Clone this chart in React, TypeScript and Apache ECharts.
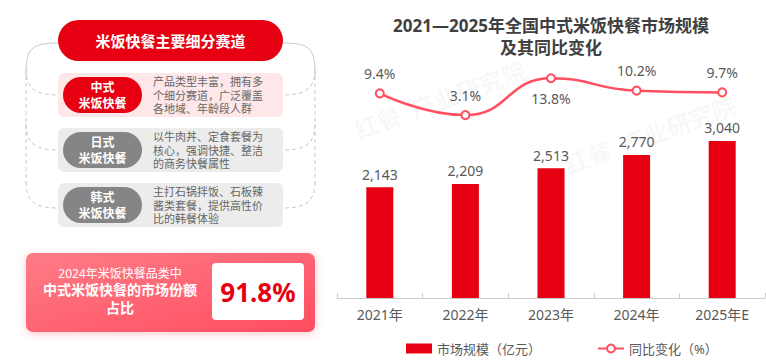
import React, { useEffect, useRef } from "react";
import * as echarts from "echarts";

const years = ["2021年", "2022年", "2023年", "2024年", "2025年E"];
const marketSize = [2143, 2209, 2513, 2770, 3040];
const yoyGrowth = [9.4, 3.1, 13.8, 10.2, 9.7];
const yoyLabelBelow = [false, false, true, false, false];

const chartTitle = "2021—2025年全国中式米饭快餐市场规模\n及其同比变化";
const legendNames = ["市场规模（亿元）", "同比变化（%）"];
const panelTitle = "米饭快餐主要细分赛道";
const segmentNames = ["中式\n米饭快餐", "日式\n米饭快餐", "韩式\n米饭快餐"];
const segmentDescs = [
  ["产品类型丰富，拥有多", "个细分赛道，广泛覆盖", "各地域、年龄段人群"],
  ["以牛肉丼、定食套餐为", "核心，强调快捷、整洁", "的商务快餐属性"],
  ["主打石锅拌饭、石板辣", "酱类套餐，提供高性价", "比的韩餐体验"],
];
const shareLines = ["2024年米饭快餐品类中", "中式米饭快餐的市场份额", "占比"];
const shareValue = "91.8%";
const watermark = "红餐  产业研究院";

const FONT = '"Noto Sans", "Noto Sans CJK SC", sans-serif';
const RED = "#e60012";
const LINE = "#ff4f60";

export default function App() {
  const ref = useRef<HTMLDivElement>(null);
  useEffect(() => {
    if (!ref.current) return;
    const chart = echarts.init(ref.current, null, { renderer: "svg" });

    const graphics: any[] = [];
    // faint watermarks
    const wmPos = [
      [440, 100], [650, 135],
    ];
    wmPos.forEach(([x, y]) => {
      graphics.push({
        type: "text", x, y, rotation: 0.35, z: 0, silent: true,
        style: { text: watermark, font: `bold 24px ${FONT}`, fill: "rgba(0,0,0,0.04)", textAlign: "center", textVerticalAlign: "middle" },
      });
    });

    // outline curves
    const gray = "#c9c9c9";
    const sides = [
      { xo: 26, xi: 58 },
      { xo: 315, xi: 283 },
    ];
    sides.forEach(({ xo, xi }) => {
      graphics.push({
        type: "bezierCurve", z: 1,
        shape: { x1: xi, y1: 43, x2: xo, y2: 76, cpx1: xo + (xi - xo) * 0.1, cpy1: 43, cpx2: xo, cpy2: 50 },
        style: { stroke: gray, lineWidth: 1, fill: null },
      });
      graphics.push({
        type: "line", z: 1,
        shape: { x1: xo, y1: 76, x2: xo, y2: 183 },
        style: { stroke: gray, lineWidth: 1, lineDash: [4, 3] },
      });
      [95, 150, 208].forEach((yy) => {
        graphics.push({
          type: "bezierCurve", z: 1,
          shape: { x1: xo, y1: yy - 26, x2: xi, y2: yy, cpx1: xo, cpy1: yy - 6, cpx2: xo + (xi - xo) * 0.3, cpy2: yy },
          style: { stroke: gray, lineWidth: 1, lineDash: [4, 3], fill: null },
        });
      });
    });

    // header pill
    graphics.push({ type: "rect", z: 2, shape: { x: 58, y: 20, width: 225, height: 41, r: 20.5 }, style: { fill: RED } });
    graphics.push({ type: "text", z: 3, x: 170.5, y: 41, style: { text: panelTitle, font: `bold 15px ${FONT}`, fill: "#fff", textAlign: "center", textVerticalAlign: "middle" } });

    const rowTops = [73, 128, 183];
    const rowBg = ["#fde7e9", "#ececec", "#ececec"];
    const pillBg = [RED, "#858585", "#858585"];
    rowTops.forEach((t, i) => {
      graphics.push({ type: "rect", z: 2, shape: { x: 58, y: t, width: 225, height: 44, r: 6 }, style: { fill: rowBg[i] } });
      graphics.push({ type: "rect", z: 3, shape: { x: 63, y: t + 4, width: 79, height: 36, r: 18 }, style: { fill: pillBg[i] } });
      const c = t + 22;
      graphics.push({ type: "text", z: 4, x: 102.5, y: c, style: { text: segmentNames[i], font: `bold 12px ${FONT}`, lineHeight: 16, fill: "#fff", textAlign: "center", textVerticalAlign: "middle" } });
      graphics.push({ type: "text", z: 4, x: 153, y: c, style: { text: segmentDescs[i].join("\n"), font: `11px ${FONT}`, lineHeight: 13.5, fill: "#666", textAlign: "left", textVerticalAlign: "middle" } });
    });

    // bottom card
    graphics.push({
      type: "rect", z: 2, shape: { x: 26, y: 253, width: 289, height: 79, r: 7 },
      style: {
        fill: new echarts.graphic.LinearGradient(0, 0, 1, 1, [
          { offset: 0, color: "#ff7c88" },
          { offset: 1, color: "#ff4d5f" },
        ]),
        shadowBlur: 8, shadowColor: "rgba(255,77,95,0.3)", shadowOffsetY: 2,
      },
    });
    graphics.push({ type: "text", z: 3, x: 120, y: 273, style: { text: shareLines[0], font: `12px ${FONT}`, fill: "#fff", textAlign: "center", textVerticalAlign: "middle" } });
    graphics.push({ type: "text", z: 3, x: 120, y: 298.5, style: { text: shareLines[1] + "\n" + shareLines[2], font: `bold 14px ${FONT}`, lineHeight: 17.6, fill: "#fff", textAlign: "center", textVerticalAlign: "middle" } });
    graphics.push({ type: "rect", z: 3, shape: { x: 212, y: 263, width: 92, height: 57, r: 4 }, style: { fill: "#fff" } });
    graphics.push({ type: "text", z: 4, x: 258, y: 292, style: { text: shareValue, font: `bold 26px ${FONT}`, fill: RED, textAlign: "center", textVerticalAlign: "middle" } });

    // chart title
    graphics.push({ type: "text", z: 3, x: 551, y: 36, style: { text: chartTitle, font: `bold 17px ${FONT}`, fill: "#404040", textAlign: "center", textVerticalAlign: "middle", lineHeight: 22 } });

    chart.setOption({
      animation: false,
      textStyle: { fontFamily: FONT },
      grid: { left: 337, right: 1, top: 39.7, bottom: 65, containLabel: false },
      legend: {
        left: 401, top: 337, itemWidth: 26, itemHeight: 10, itemGap: 56,
        textStyle: { color: "#595959", fontSize: 13, fontFamily: FONT },
        data: [
          { name: legendNames[0], icon: "rect" },
          { name: legendNames[1] },
        ],
      },
      xAxis: {
        type: "category", data: years,
        axisLine: { lineStyle: { color: "#cccccc" } },
        axisTick: { show: true, inside: true, length: 5, lineStyle: { color: "#cccccc" } },
        axisLabel: { color: "#595959", fontSize: 14, margin: 9, fontFamily: FONT },
      },
      yAxis: [
        { type: "value", min: 0, max: 5000, show: false, splitLine: { show: false } },
        { type: "value", min: -50, max: 25, show: false, splitLine: { show: false } },
      ],
      series: [
        {
          name: legendNames[0], type: "bar", data: marketSize, barWidth: 27,
          itemStyle: { color: RED },
          label: {
            show: true, position: "top", distance: 6, color: "#595959", fontSize: 14, fontFamily: FONT,
            formatter: (p: any) => Number(p.value).toLocaleString("en-US"),
          },
        },
        {
          name: legendNames[1], type: "line", yAxisIndex: 1, smooth: 0.5,
          symbol: "emptyCircle", symbolSize: 8,
          lineStyle: { color: LINE, width: 2.5 },
          itemStyle: { color: LINE, borderWidth: 2.2 },
          data: yoyGrowth.map((v, i) => ({
            value: v,
            label: { position: yoyLabelBelow[i] ? "bottom" : "top" },
          })),
          label: {
            show: true, distance: 8, color: "#595959", fontSize: 14, fontFamily: FONT,
            formatter: (p: any) => `${Number(p.value).toFixed(1)}%`,
          },
        },
      ],
      graphic: graphics,
    });
    return () => chart.dispose();
  }, []);
  return <div ref={ref} style={{ position: "fixed", left: 0, top: 0, width: 766, height: 363, background: "#fff" }} />;
}
